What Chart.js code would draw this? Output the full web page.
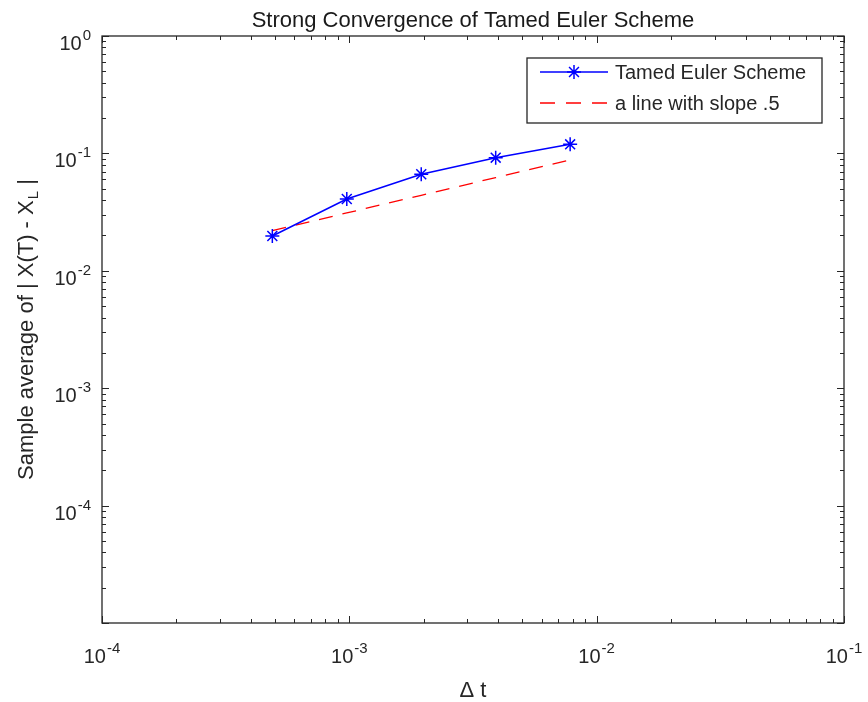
<!DOCTYPE html>
<html>
<head>
<meta charset="utf-8">
<script src="https://cdn.jsdelivr.net/npm/chart.js@4/dist/chart.umd.min.js"></script>
<style>
  html, body { margin: 0; padding: 0; background: #ffffff; }
  #c { display: block; }
</style>
</head>
<body>
<canvas id="c" width="868" height="702"></canvas>
<script>
// ---- data ----
const dtValues  = [0.00048828125, 0.0009765625, 0.001953125, 0.00390625, 0.0078125];
const errTamed  = [0.0198, 0.0409, 0.0664, 0.0920, 0.1195];
const slopeRef  = [0.0220, 0.0311, 0.0440, 0.0622, 0.0880];
const xTickExps = [-4, -3, -2, -1];
const yTickExps = [0, -1, -2, -3, -4];
const seriesNames = ['Tamed Euler Scheme', 'a line with slope .5'];
const titleText = 'Strong Convergence of Tamed Euler Scheme';
const xLabelText = '\u0394 t';
const yLabelMain = 'Sample average of | X(T) - X';
const yLabelSub = 'L';
const yLabelEnd = ' |';

const FONT = '"Liberation Sans", Arial, Helvetica, sans-serif';
const AXIS_COLOR = '#262626';
const TEXT_COLOR = '#262626';
const BLUE = '#0000ff';
const RED = '#ff0000';

function drawStar(ctx, cx, cy, r) {
  ctx.beginPath();
  ctx.moveTo(cx - r, cy); ctx.lineTo(cx + r, cy);
  ctx.moveTo(cx, cy - r); ctx.lineTo(cx, cy + r);
  const d = r * Math.SQRT1_2;
  ctx.moveTo(cx - d, cy - d); ctx.lineTo(cx + d, cy + d);
  ctx.moveTo(cx - d, cy + d); ctx.lineTo(cx + d, cy - d);
  ctx.stroke();
}

function drawPow(ctx, exp, x, baseY, align) {
  const base = '10', sup = String(exp).replace('-', '-');
  ctx.font = '20px ' + FONT;
  const wb = ctx.measureText(base).width;
  ctx.font = '15px ' + FONT;
  const ws = ctx.measureText(sup).width;
  const total = wb + ws + 1;
  let left;
  if (align === 'center') left = x - total / 2;
  else left = x - total; // right
  ctx.textAlign = 'left';
  ctx.textBaseline = 'alphabetic';
  ctx.font = '20px ' + FONT;
  ctx.fillText(base, left, baseY);
  ctx.font = '15px ' + FONT;
  ctx.fillText(sup, left + wb + 1, baseY - 10);
}

const matlabAxes = {
  id: 'matlabAxes',
  afterDraw(chart) {
    const { ctx, chartArea: a, scales } = chart;
    const xs = scales.x, ys = scales.y;
    ctx.save();
    // tick marks (inward, all four sides)
    ctx.strokeStyle = AXIS_COLOR;
    ctx.lineWidth = 1;
    ctx.beginPath();
    for (let d = -4; d <= -1; d++) {
      for (let m = 1; m <= 9; m++) {
        const v = m * Math.pow(10, d);
        if (v > xs.max * 1.0001) break;
        const px = Math.round(xs.getPixelForValue(v)) + 0.5;
        const len = m === 1 ? 7 : 4;
        ctx.moveTo(px, a.bottom); ctx.lineTo(px, a.bottom - len);
        ctx.moveTo(px, a.top); ctx.lineTo(px, a.top + len);
      }
    }
    for (let d = -5; d <= 0; d++) {
      for (let m = 1; m <= 9; m++) {
        const v = m * Math.pow(10, d);
        if (v > ys.max * 1.0001) break;
        const py = Math.round(ys.getPixelForValue(v)) + 0.5;
        const len = m === 1 ? 7 : 4;
        ctx.moveTo(a.left, py); ctx.lineTo(a.left + len, py);
        ctx.moveTo(a.right, py); ctx.lineTo(a.right - len, py);
      }
    }
    ctx.stroke();
    // box
    ctx.lineWidth = 1.3;
    ctx.strokeRect(a.left, a.top, a.right - a.left, a.bottom - a.top);

    // tick labels
    ctx.fillStyle = TEXT_COLOR;
    xTickExps.forEach(e => {
      const px = xs.getPixelForValue(Math.pow(10, e));
      drawPow(ctx, e, px, a.bottom + 40, 'center');
    });
    yTickExps.forEach(e => {
      const py = ys.getPixelForValue(Math.pow(10, e));
      drawPow(ctx, e, a.left - 11, py + 14, 'right');
    });

    // title
    const cx = (a.left + a.right) / 2;
    ctx.fillStyle = '#1a1a1a';
    ctx.font = '22px ' + FONT;
    ctx.textAlign = 'center';
    ctx.textBaseline = 'alphabetic';
    ctx.fillText(titleText, cx, a.top - 9);

    // x label
    ctx.fillStyle = TEXT_COLOR;
    ctx.fillText(xLabelText, cx, 697);

    // y label (rotated, with subscript)
    const cy = (a.top + a.bottom) / 2;
    ctx.save();
    ctx.translate(33, cy);
    ctx.rotate(-Math.PI / 2);
    ctx.font = '22px ' + FONT;
    const w1 = ctx.measureText(yLabelMain).width;
    const w3 = ctx.measureText(yLabelEnd).width;
    ctx.font = '15px ' + FONT;
    const w2 = ctx.measureText(yLabelSub).width;
    const tot = w1 + w2 + w3 + 1;
    let sx = -tot / 2;
    ctx.textAlign = 'left';
    ctx.font = '22px ' + FONT;
    ctx.fillText(yLabelMain, sx, 0);
    sx += w1 + 1;
    ctx.font = '15px ' + FONT;
    ctx.fillText(yLabelSub, sx, 5);
    sx += w2;
    ctx.font = '22px ' + FONT;
    ctx.fillText(yLabelEnd, sx, 0);
    ctx.restore();

    // legend
    const lx = a.right - 317, ly = a.top + 22, lw = 295, lh = 65;
    ctx.fillStyle = '#ffffff';
    ctx.fillRect(lx, ly, lw, lh);
    ctx.strokeStyle = AXIS_COLOR;
    ctx.lineWidth = 1.3;
    ctx.strokeRect(lx, ly, lw, lh);
    const r1 = ly + 14, r2 = ly + 45;
    // row 1
    ctx.strokeStyle = BLUE;
    ctx.lineWidth = 1.5;
    ctx.beginPath(); ctx.moveTo(lx + 13, r1); ctx.lineTo(lx + 81, r1); ctx.stroke();
    drawStar(ctx, lx + 47, r1, 7);
    // row 2
    ctx.strokeStyle = RED;
    ctx.setLineDash([15, 11]);
    ctx.beginPath(); ctx.moveTo(lx + 13, r2); ctx.lineTo(lx + 81, r2); ctx.stroke();
    ctx.setLineDash([]);
    ctx.fillStyle = TEXT_COLOR;
    ctx.font = '20px ' + FONT;
    ctx.textAlign = 'left';
    ctx.textBaseline = 'middle';
    ctx.fillText(seriesNames[0], lx + 88, r1 + 1);
    ctx.fillText(seriesNames[1], lx + 88, r2 + 1);
    ctx.restore();
  }
};

new Chart(document.getElementById('c'), {
  type: 'scatter',
  data: {
    datasets: [
      {
        label: seriesNames[0],
        data: dtValues.map((v, i) => ({ x: v, y: errTamed[i] })),
        showLine: true,
        borderColor: BLUE,
        backgroundColor: BLUE,
        borderWidth: 1.5,
        pointStyle: 'star',
        pointRadius: 7,
        pointBorderWidth: 1.5,
        pointBorderColor: BLUE,
        pointHoverRadius: 7
      },
      {
        label: seriesNames[1],
        data: dtValues.map((v, i) => ({ x: v, y: slopeRef[i] })),
        showLine: true,
        borderColor: RED,
        borderWidth: 1.3,
        borderDash: [14, 10],
        pointRadius: 0,
        pointHoverRadius: 0
      }
    ]
  },
  options: {
    responsive: false,
    animation: false,
    devicePixelRatio: 1,
    layout: { padding: { left: 102, right: 24, top: 36, bottom: 79 } },
    plugins: { legend: { display: false }, title: { display: false }, tooltip: { enabled: false } },
    scales: {
      x: { type: 'logarithmic', min: 1e-4, max: 1e-1, display: false },
      y: { type: 'logarithmic', min: 1e-5, max: 1, display: false }
    }
  },
  plugins: [matlabAxes]
});
</script>
</body>
</html>
